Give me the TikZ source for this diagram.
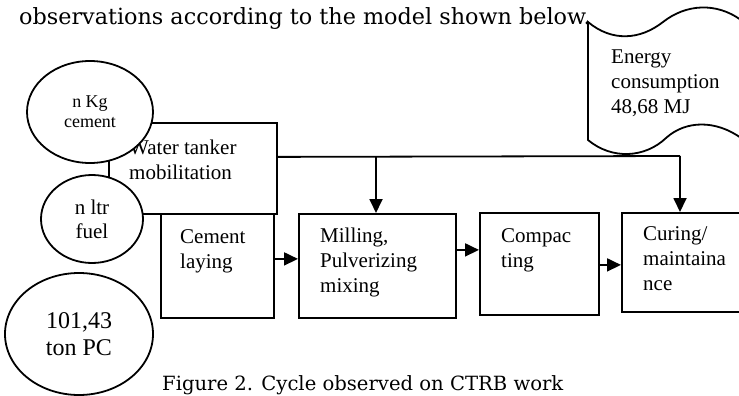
\documentclass[tikz,border=0pt]{standalone}
\usepackage{fontspec}
\setmainfont{Liberation Serif}
\newfontfamily\notefont{DejaVu Serif}
\usetikzlibrary{shapes.geometric,arrows.meta,positioning,calc}
\tikzset{
  stage/.style={draw, rectangle, line width=1.8pt, inner sep=0pt, anchor=north west},
  stagetext/.style={anchor=north west, align=left, inner sep=0pt, font=\fontsize{21}{25}\selectfont},
  source/.style={draw, ellipse, line width=1.8pt, fill=white, inner sep=0pt, align=center},
  flow/.style={line width=1.8pt, -{Triangle[length=14pt,width=13pt]}},
  note/.style={anchor=base west, inner sep=0pt, font=\notefont\fontsize{22.3}{26}\selectfont}
}
\begin{document}
\begin{tikzpicture}[x=1pt,y=-1pt]
    \useasboundingbox (0,0) rectangle (739,396);
    \clip (0,0) rectangle (739,396);

    \node[note] (head) at (19,25) {observations according to the model shown below.};
    \node[note, font=\notefont\fontsize{19.6}{24}\selectfont] (caption) at (162,390) {Figure 2. Cycle observed on CTRB work};

    % process boxes
    \node[stage, minimum width=168pt, minimum height=91pt] (tanker) at (108,122) {};
    \node[stage, minimum width=113pt, minimum height=104pt] (cement) at (160,213) {};
    \node[stage, minimum width=157pt, minimum height=104pt] (milling) at (298,213) {};
    \node[stage, minimum width=119pt, minimum height=102pt] (compact) at (479,212) {};
    \node[stage, minimum width=139pt, minimum height=99pt] (curing) at (621,212) {};

    \node[stagetext] (tankertext) at (129,140) {Water tanker\\mobilitation};
    \node[stagetext] (cementtext) at (180,229) {Cement\\laying};
    \node[stagetext] (millingtext) at (320,228) {Milling,\\Pulverizing\\mixing};
    \node[stagetext] (compacttext) at (501,228) {Compac\\ting};
    \node[stagetext] (curingtext) at (643,226) {Curing/\\maintaina\\nce};

    % inputs
    \node[source, minimum width=126pt, minimum height=102pt, font=\fontsize{18}{20}\selectfont] (kg) at (90,112) {n Kg\\cement};
    \node[source, minimum width=102pt, minimum height=88pt, font=\fontsize{21}{24}\selectfont] (ltr) at (92,219) {n ltr\\fuel};
    \node[source, minimum width=148pt, minimum height=122pt, font=\fontsize{24}{27}\selectfont] (pc) at (79,334) {101,43\\ton PC};

    % energy tape
    \draw[line width=1.8pt] (588,22) .. controls (612,42) and (640,40) .. (663,22)
        .. controls (686,4) and (716,2) .. (741,20) -- (741,138)
        .. controls (716,120) and (686,120) .. (666,138)
        .. controls (645,158) and (612,160) .. (588,140) -- cycle;
    \node[stagetext] (energy) at (611,50) {Energy\\consumption\\48,68 MJ};

    % flows
    \coordinate (tap) at (376,156);
    \coordinate (junc) at (680,156);
    \draw[line width=1.8pt] ([yshift=11.5pt]tanker.east) -- (junc);
    \draw[flow] (tap) -- (tap |- milling.north);
    \draw[flow] (junc) -- (junc |- curing.north);
    \draw[flow] ([yshift=7pt]cement.east) -- ([yshift=7pt]cement.east -| milling.west);
    \draw[flow] ([yshift=16pt]milling.east) -- ([yshift=16pt]milling.east -| compact.west);
    \draw[flow] ([yshift=-1pt]compact.east) -- ([yshift=-1pt]compact.east -| curing.west);
\end{tikzpicture}
\end{document}
